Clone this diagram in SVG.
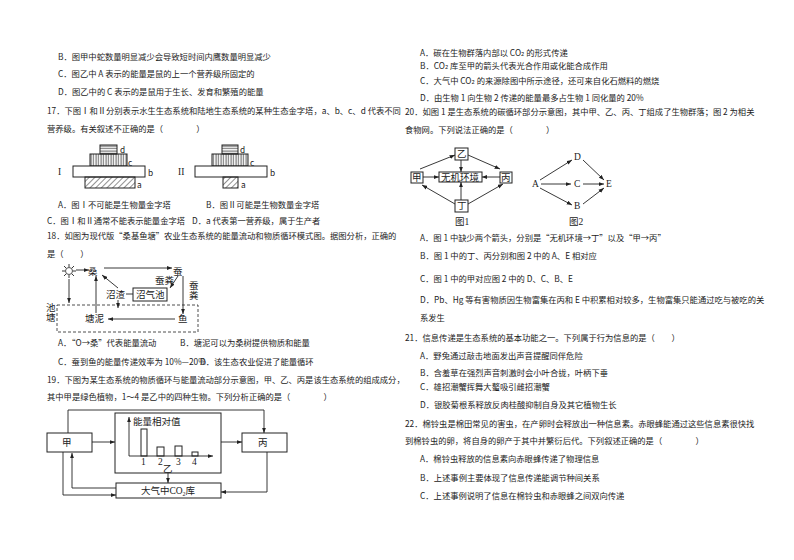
<svg xmlns="http://www.w3.org/2000/svg" width="794" height="560" viewBox="0 0 794 560">
<defs>
<marker id="ar" viewBox="0 0 8 6" refX="8" refY="3" markerWidth="6" markerHeight="5" orient="auto"><path d="M0,0 L8,3 L0,6 z" fill="#222"/></marker>
<pattern id="hat" width="4" height="4" patternUnits="userSpaceOnUse" patternTransform="rotate(45)"><line x1="0" y1="0" x2="0" y2="4" stroke="#222" stroke-width="1"/></pattern>
<pattern id="vl" width="2.5" height="4" patternUnits="userSpaceOnUse"><line x1="1" y1="0" x2="1" y2="4" stroke="#222" stroke-width="0.8"/></pattern>
<pattern id="hl" width="4" height="2.5" patternUnits="userSpaceOnUse"><line x1="0" y1="1" x2="4" y2="1" stroke="#222" stroke-width="0.8"/></pattern>
</defs>
<style>
text{font-family:"Noto Sans CJK SC","DejaVu Sans",sans-serif;font-size:8.3px;fill:#222}
.s{font-family:"Liberation Serif","Noto Sans CJK SC",serif;font-size:9.5px}
.b{fill:#fff;stroke:#222;stroke-width:1}
.l{fill:none;stroke:#222;stroke-width:0.9}
.a{fill:none;stroke:#222;stroke-width:0.9;marker-end:url(#ar)}
</style>
<rect width="794" height="560" fill="#fff"/>
<g id="text-left">
<text x="58" y="60">B．图甲中蛇数量明显减少会导致短时间内鹰数量明显减少</text>
<text x="58" y="77">C．图乙中 A 表示的能量是鼠的上一个营养级所固定的</text>
<text x="58" y="95">D．图乙中的 C 表示的是鼠用于生长、发育和繁殖的能量</text>
<text x="47" y="114">17．下图Ⅰ和Ⅱ分别表示水生生态系统和陆地生态系统的某种生态金字塔，a、b、c、d 代表不同</text>
<text x="47" y="132">营养级。有关叙述不正确的是（　　　　）</text>
<text x="58" y="208">A．图Ⅰ不可能是生物量金字塔</text>
<text x="206" y="208">B．图Ⅱ可能是生物数量金字塔</text>
<text x="47" y="224">C．图Ⅰ和Ⅱ通常不能表示能量金字塔</text>
<text x="192" y="224">D．a 代表第一营养级，属于生产者</text>
<text x="47" y="239">18．如图为现代版“桑基鱼塘”农业生态系统的能量流动和物质循环模式图。据图分析，正确的</text>
<text x="47" y="257">是（　　）</text>
<text x="58" y="346">A．“O→桑”代表能量流动</text>
<text x="180" y="346">B．塘泥可以为桑树提供物质和能量</text>
<text x="58" y="365" font-size="8">C．蚕到鱼的能量传递效率为 10%—20%</text>
<text x="200" y="365">D．该生态农业促进了能量循环</text>
<text x="47" y="383">19．下图为某生态系统的物质循环与能量流动部分示意图，甲、乙、丙是该生态系统的组成成分，</text>
<text x="47" y="400">其中甲是绿色植物，1～4 是乙中的四种生物。下列分析正确的是（　　　　）</text>
</g>
<g id="text-right">
<text x="420" y="56">A．碳在生物群落内部以 CO₂ 的形式传递</text>
<text x="420" y="69">B．CO₂ 库至甲的箭头代表光合作用或化能合成作用</text>
<text x="420" y="84">C．大气中 CO₂ 的来源除图中所示途径，还可来自化石燃料的燃烧</text>
<text x="420" y="101">D．由生物 1 向生物 2 传递的能量最多占生物 1 同化量的 20%</text>
<text x="405" y="115">20．如图 1 是生态系统的碳循环部分示意图，其中甲、乙、丙、丁组成了生物群落；图 2 为相关</text>
<text x="405" y="133">食物网。下列说法正确的是（　　　　）</text>
<text x="420" y="241">A．图 1 中缺少两个箭头，分别是“无机环境→丁”以及“甲→丙”</text>
<text x="420" y="259">B．图 1 中的丁、丙分别和图 2 中的 A、E 相对应</text>
<text x="420" y="282">C．图 1 中的甲对应图 2 中的 D、C、B、E</text>
<text x="420" y="303">D．Pb、Hg 等有害物质因生物富集在丙和 E 中积累相对较多，生物富集只能通过吃与被吃的关</text>
<text x="420" y="321">系发生</text>
<text x="405" y="341">21．信息传递是生态系统的基本功能之一。下列属于行为信息的是（　　）</text>
<text x="420" y="359">A．野兔通过敲击地面发出声音提醒同伴危险</text>
<text x="420" y="376">B．含羞草在强烈声音刺激时会小叶合拢，叶柄下垂</text>
<text x="420" y="390">C．雄招潮蟹挥舞大螯吸引雌招潮蟹</text>
<text x="420" y="408">D．银胶菊根系释放反肉桂酸抑制自身及其它植物生长</text>
<text x="405" y="427">22．棉铃虫是棉田常见的害虫，在产卵时会释放出一种信息素。赤眼蜂能通过这些信息素很快找</text>
<text x="405" y="444">到棉铃虫的卵，将自身的卵产于其中并繁衍后代。下列叙述正确的是（　　　　）</text>
<text x="420" y="462">A．棉铃虫释放的信息素向赤眼蜂传递了物理信息</text>
<text x="420" y="481">B．上述事例主要体现了信息传递能调节种间关系</text>
<text x="420" y="499">C．上述事例说明了信息在棉铃虫和赤眼蜂之间双向传递</text>
</g>
<g id="pyramid-I">
<rect x="100" y="145" width="17" height="9" fill="url(#hl)" stroke="#222"/>
<rect x="90" y="154" width="37" height="12" fill="url(#vl)" stroke="#222"/>
<rect x="73" y="166" width="72" height="11" class="b"/>
<rect x="85" y="177" width="50" height="11" fill="url(#hat)" stroke="#222"/>
<text x="58" y="175" class="s">I</text>
<text x="120" y="153">d</text><text x="128" y="166">c</text><text x="148" y="176">b</text><text x="137" y="188">a</text>
</g>
<g id="pyramid-II">
<rect x="222" y="145" width="16" height="9" fill="url(#hl)" stroke="#222"/>
<rect x="212" y="154" width="36" height="12" fill="url(#vl)" stroke="#222"/>
<rect x="195" y="166" width="72" height="11" class="b"/>
<rect x="223" y="177" width="15" height="11" fill="url(#hat)" stroke="#222"/>
<text x="178" y="175" class="s">II</text>
<text x="240" y="153">d</text><text x="250" y="166">c</text><text x="270" y="176">b</text><text x="241" y="188">a</text>
</g>
<g id="fig18">
<rect x="57" y="305" width="141" height="27" fill="none" stroke="#222" stroke-width="0.8" stroke-dasharray="3,2"/>
<g id="sun"><circle cx="69" cy="271" r="3.5" fill="none" stroke="#222" stroke-width="0.8"/>
<path d="M69,264v3M69,275v3M62,271h3M73,271h3M64,266l2,2M72,274l2,2M64,276l2,-2M72,268l2,-2" class="l" stroke-width="0.7"/></g>
<text x="88" y="275" class="s">桑</text><text x="173" y="275" class="s">蚕</text>
<text x="155" y="284" class="s" font-size="8.5">蚕粪</text>
<text x="189" y="289" class="s" font-size="8.5">蚕</text><text x="189" y="299" class="s" font-size="8.5">粪</text>
<text x="106" y="298" class="s">沼渣</text>
<rect x="133" y="288" width="34" height="13" class="b"/><text x="136" y="298" class="s">沼气池</text>
<text x="46" y="311" class="s">池</text><text x="46" y="321" class="s">塘</text>
<text x="85" y="322" class="s">塘泥</text><text x="178" y="322" class="s">鱼</text>
</g>
<g id="fig19">
<rect x="47" y="433" width="45" height="19" class="b"/><text x="62" y="446" class="s">甲</text>
<rect x="115" y="413" width="106" height="60" class="b"/>
<rect x="242" y="433" width="45" height="19" class="b"/><text x="258" y="446" class="s">丙</text>
<rect x="116" y="483" width="105" height="15" class="b"/><text x="168" y="494" class="s" text-anchor="middle">大气中CO<tspan font-size="6" dy="2">2</tspan><tspan dy="-2">库</tspan></text>
<text x="133" y="425" class="s" font-size="11">能量相对值</text>
<rect x="141" y="429" width="6" height="27" class="b"/>
<rect x="157" y="447" width="7" height="9" class="b"/>
<rect x="175" y="446" width="7" height="10" class="b"/>
<rect x="192" y="452" width="6" height="4" class="b"/>
<text x="141" y="465" class="s">1</text><text x="158" y="465" class="s">2</text><text x="176" y="465" class="s">3</text><text x="192" y="465" class="s">4</text>
<text x="163" y="472" class="s">乙</text>
</g>
<g id="fig20-1">
<rect x="455" y="148" width="13" height="12" class="b"/><text x="457" y="157" class="s">乙</text>
<rect x="411" y="172" width="12" height="11" class="b"/><text x="412" y="181" class="s">甲</text>
<rect x="439" y="172" width="43" height="10" class="b"/><text x="441" y="180.5" class="s" font-size="7.8">无机环境</text>
<rect x="500" y="172" width="12" height="11" class="b"/><text x="501" y="181" class="s">丙</text>
<rect x="455" y="200" width="13" height="12" class="b"/><text x="457" y="209" class="s">丁</text>
<text x="455" y="225" class="s" font-size="8.5">图1</text>
</g>
<g id="fig20-2">
<text x="532" y="187" class="s">A</text><text x="574" y="160" class="s">D</text><text x="574" y="187" class="s">C</text><text x="574" y="209" class="s">B</text><text x="606" y="187" class="s">E</text>
<text x="569" y="225" class="s" font-size="8.5">图2</text>
</g>
<g id="connectors">
<path d="M76,270H89" class="a"/><path d="M104,268H172" class="a"/>
<path d="M69,279V303" class="a"/>
<path d="M178,276L170,288" class="a"/>
<path d="M118,288L102,275" class="a"/>
<path d="M126,294H133" class="l"/>
<path d="M118,300V308" class="a"/>
<path d="M183,276V314" class="a"/>
<path d="M175,319H108" class="a"/>
<path d="M96,313V276" class="a"/>
<path d="M68,433V410H264V433" class="a"/>
<path d="M92,442H115" class="a"/><path d="M221,442H242" class="a"/>
<path d="M168,473V483" class="a"/>
<path d="M116,488H72V453" class="a"/>
<path d="M63,452V495H116" class="a"/>
<path d="M267,452V492H221" class="a"/>
<path d="M129,456V417" class="a"/><path d="M129,456H213" class="a"/>
<path d="M423,177H439" class="a"/><path d="M500,177H482" class="a"/>
<path d="M461,160V172" class="a"/><path d="M461,200V182" class="a"/>
<path d="M420,169L455,155" class="a"/><path d="M468,155L500,169" class="a"/>
<path d="M455,204L422,185" class="a"/><path d="M468,204L503,184" class="a"/>
<path d="M540,180L572,160" class="a"/><path d="M541,184H571" class="a"/><path d="M540,188L572,205" class="a"/>
<path d="M583,160L604,180" class="a"/><path d="M583,184H604" class="a"/><path d="M583,204L604,188" class="a"/>
</g>
</svg>
